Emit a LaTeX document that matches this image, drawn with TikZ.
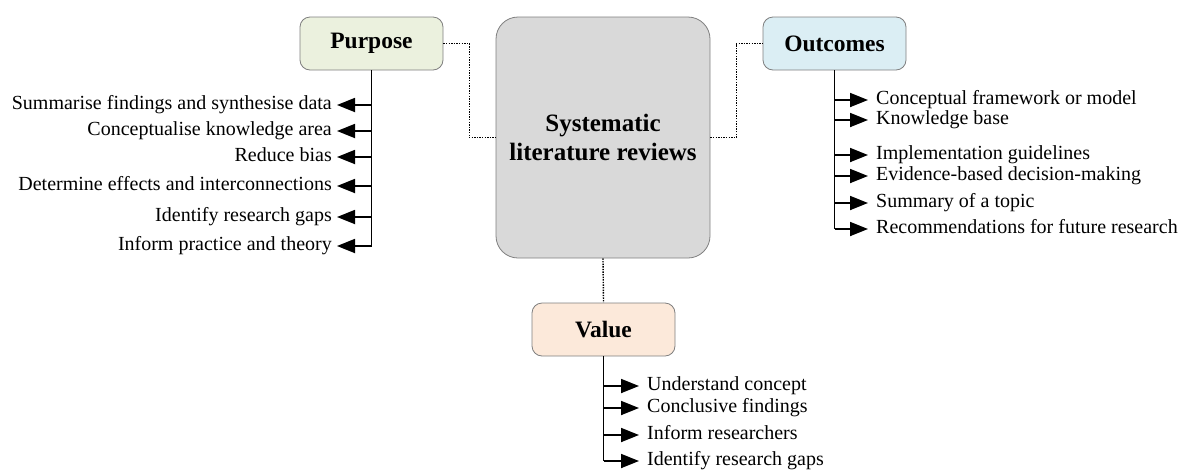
\documentclass[tikz,border=0pt]{standalone}
\usepackage{fontspec}
\setmainfont{Liberation Serif}
\usepackage{tikz}
\usetikzlibrary{arrows.meta}

\definecolor{purfill}{HTML}{EBF1DE}
\definecolor{outfill}{HTML}{DBEEF4}
\definecolor{valfill}{HTML}{FCE9DA}
\definecolor{sysfill}{HTML}{D9D9D9}
\definecolor{boxline}{HTML}{7F7F7F}

\begin{document}
\begin{tikzpicture}
          [x=1pt, y=-1pt,
           head/.style = {draw=boxline, line width=0.8pt, rounded corners=10pt,
                          minimum width=143pt, minimum height=53pt, inner sep=0pt,
                          font=\fontsize{23.5}{26}\selectfont\bfseries},
           core/.style = {draw=boxline, line width=0.8pt, fill=sysfill, rounded corners=22pt,
                          minimum width=214pt, minimum height=241pt, inner sep=0pt, align=center,
                          font=\fontsize{25}{29}\selectfont\bfseries},
           item/.style = {inner xsep=8pt, inner ysep=0pt, text height=13pt, text depth=4pt,
                          font=\fontsize{20}{23}\selectfont},
           trunk/.style = {line width=1.8pt},
           arr/.style = {line width=1.8pt, -{Triangle[length=18pt, width=14pt]}},
           link/.style = {line width=1.4pt, dash pattern=on 1.4pt off 1.2pt}]
          \useasboundingbox (0,0) rectangle (1179,475);

          \node[core] (sys) at (603,137.5) {Systematic\\literature reviews};
          \node[head, fill=purfill] (pur) at (371.5,43.5) {Purpose};
          \node[head, fill=outfill] (out) at (834.5,43.5) {Outcomes};
          \node[head, fill=valfill] (val) at (603.5,329.5) {Value};

          \draw[link] (pur.east) -- ++(26,0) |- (sys.west);
          \draw[link] (sys.east) -- ++(26,0) |- (out.west);
          \draw[link] (sys.south) -- (val.north);

          % purpose items
          \node[item, anchor=east, inner xsep=5pt] (p1) at (337,105) {Summarise findings and synthesise data};
          \node[item, anchor=east, inner xsep=5pt] (p2) at (337,131) {Conceptualise knowledge area};
          \node[item, anchor=east, inner xsep=5pt] (p3) at (337,157) {Reduce bias};
          \node[item, anchor=east, inner xsep=5pt] (p4) at (337,186) {Determine effects and interconnections};
          \node[item, anchor=east, inner xsep=5pt] (p5) at (337,217) {Identify research gaps};
          \node[item, anchor=east, inner xsep=5pt] (p6) at (337,246) {Inform practice and theory};

          \draw[trunk] (pur.south) -- (pur.south |- p6.east);
          \foreach \i in {1,...,6}
            \draw[arr] (pur.south |- p\i.east) -- (p\i.east);

          % outcome items
          \node[item, anchor=west] (o1) at (868,100) {Conceptual framework or model};
          \node[item, anchor=west] (o2) at (868,120) {Knowledge base};
          \node[item, anchor=west] (o3) at (868,155) {Implementation guidelines};
          \node[item, anchor=west] (o4) at (868,176) {Evidence-based decision-making};
          \node[item, anchor=west] (o5) at (868,203) {Summary of a topic};
          \node[item, anchor=west] (o6) at (868,229) {Recommendations for future research};

          \draw[trunk] (out.south) -- (out.south |- o6.west);
          \foreach \i in {1,...,6}
            \draw[arr] (out.south |- o\i.west) -- (o\i.west);

          % value items
          \node[item, anchor=west] (v1) at (639,386) {Understand concept};
          \node[item, anchor=west] (v2) at (639,408) {Conclusive findings};
          \node[item, anchor=west] (v3) at (639,435) {Inform researchers};
          \node[item, anchor=west] (v4) at (639,461) {Identify research gaps};

          \draw[trunk] (val.south) -- (val.south |- v4.west);
          \foreach \i in {1,...,4}
            \draw[arr] (val.south |- v\i.west) -- (v\i.west);
\end{tikzpicture}
\end{document}
